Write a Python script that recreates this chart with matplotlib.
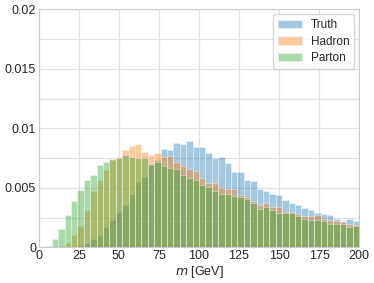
import numpy as np
import matplotlib.pyplot as plt
import seaborn as sns

# binned mass distributions, 4 GeV bins from 0 to 200
edges = np.arange(0, 204, 4)
centers = (edges[:-1] + edges[1:]) / 2

truth = [0, 0, 0, 0, 0, 0.0001, 0.0002, 0.0004, 0.0007, 0.0010,
         0.0017, 0.0023, 0.0030, 0.0036, 0.0045, 0.0055, 0.0059, 0.0069, 0.0073, 0.0083,
         0.0082, 0.0088, 0.0087, 0.0089, 0.0084, 0.0084, 0.0079, 0.0075, 0.0076, 0.0071,
         0.0063, 0.0063, 0.0057, 0.0056, 0.0049, 0.0047, 0.0045, 0.0044, 0.0040, 0.0037,
         0.0036, 0.0033, 0.0031, 0.0029, 0.0028, 0.0027, 0.0024, 0.0022, 0.0024, 0.0022]

hadron = [0, 0, 0, 0.0001, 0.0004, 0.0010, 0.0018, 0.0031, 0.0047, 0.0057,
          0.0065, 0.0073, 0.0076, 0.0082, 0.0085, 0.0087, 0.0080, 0.0078, 0.0079, 0.0076,
          0.0077, 0.0072, 0.0068, 0.0066, 0.0064, 0.0058, 0.0054, 0.0054, 0.0050, 0.0049,
          0.0049, 0.0044, 0.0042, 0.0039, 0.0036, 0.0037, 0.0034, 0.0034, 0.0030, 0.0030,
          0.0028, 0.0026, 0.0026, 0.0027, 0.0024, 0.0023, 0.0022, 0.0021, 0.0020, 0.0019]

parton = [0, 0.0001, 0.0007, 0.0015, 0.0027, 0.0039, 0.0048, 0.0057, 0.0061, 0.0069,
          0.0072, 0.0074, 0.0075, 0.0078, 0.0076, 0.0075, 0.0075, 0.0070, 0.0072, 0.0068,
          0.0067, 0.0066, 0.0061, 0.0058, 0.0057, 0.0052, 0.0051, 0.0047, 0.0045, 0.0045,
          0.0043, 0.0042, 0.0041, 0.0037, 0.0032, 0.0034, 0.0031, 0.0029, 0.0029, 0.0029,
          0.0026, 0.0024, 0.0023, 0.0023, 0.0022, 0.0020, 0.0020, 0.0020, 0.0017, 0.0018]

sns.set_style('whitegrid')
plt.rcParams['font.family'] = ['Liberation Sans', 'DejaVu Sans']

fig = plt.figure(figsize=(3.74, 2.83), dpi=100)
ax = fig.add_axes([0.104, 0.126, 0.856, 0.841])

for vals, col, lab in [(truth, 'tab:blue', 'Truth'),
                       (hadron, 'tab:orange', 'Hadron'),
                       (parton, 'tab:green', 'Parton')]:
    ax.hist(centers, bins=edges, weights=vals, color=col, alpha=0.4,
            edgecolor='white', linewidth=0.6, label=lab)

ax.set_xlim(0, 200)
ax.set_ylim(0, 0.02)
ax.set_xticks([0, 25, 50, 75, 100, 125, 150, 175, 200])
ax.set_yticks([0, 0.005, 0.01, 0.015, 0.02])
ax.set_yticklabels(['0', '0.005', '0.01', '0.015', '0.02'])
ax.set_yticks([0.0025, 0.0075, 0.0125, 0.0175], minor=True)
ax.grid(True, which='both', color='#e0e0e0', linewidth=0.9)
ax.tick_params(labelsize=9, pad=2, length=0)
for s in ax.spines.values():
    s.set_color('#cccccc')
    s.set_linewidth(0.8)
ax.set_xlabel('$m$ [GeV]', fontsize=9, labelpad=1)

ax.legend(loc='upper right', fontsize=8.5, frameon=True, handlelength=2.0,
          borderpad=0.4, labelspacing=0.4, borderaxespad=0.4)

plt.savefig('out.png', dpi=100)
